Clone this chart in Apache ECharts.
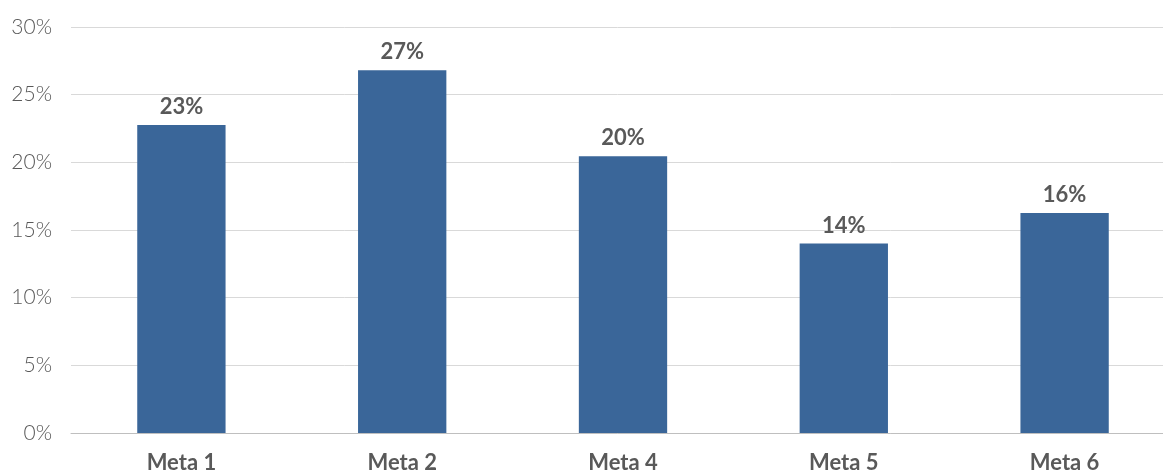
<!DOCTYPE html>
<html>
<head>
<meta charset="utf-8">
<script src="https://cdn.jsdelivr.net/npm/echarts@6/dist/echarts.min.js"></script>
<style>
  html, body { margin: 0; padding: 0; background: #ffffff; }
  #chart { width: 1163px; height: 473px; }
</style>
</head>
<body>
<div id="chart"></div>
<script>
// Share of each goal (percent)
const categories = ['Meta 1', 'Meta 2', 'Meta 4', 'Meta 5', 'Meta 6'];
const shares = [22.75, 26.8, 20.45, 14.0, 16.25];
const yTicks = [0, 5, 10, 15, 20, 25, 30];

const chart = echarts.init(document.getElementById('chart'), null, { renderer: 'canvas' });

chart.setOption({
  animation: false,
  backgroundColor: '#ffffff',
  // plot area runs a little past the right edge of the canvas
  grid: {
    left: 71, top: 27, width: 1104, height: 406,
    containLabel: false,
    outerBoundsMode: 'none'
  },
  xAxis: {
    type: 'category',
    data: categories,
    axisLine: { show: true, lineStyle: { color: '#BFBFBF', width: 1 } },
    axisTick: { show: false },
    axisLabel: {
      margin: 19,
      color: '#595959',
      fontFamily: 'Lato, "DejaVu Sans", sans-serif',
      fontWeight: 'bold',
      fontSize: 22
    }
  },
  yAxis: {
    type: 'value',
    min: yTicks[0],
    max: yTicks[yTicks.length - 1],
    interval: 5,
    axisLine: { show: false },
    axisTick: { show: false },
    splitLine: { lineStyle: { color: '#D9D9D9', width: 1 } },
    axisLabel: {
      margin: 19,
      color: '#595959',
      fontFamily: 'Lato, "DejaVu Sans", sans-serif',
      fontWeight: 300,
      fontSize: 21,
      formatter: v => v + '%'
    }
  },
  series: [{
    type: 'bar',
    data: shares,
    barWidth: '40%',
    itemStyle: { color: '#3A6699' },
    label: {
      show: true,
      position: 'top',
      distance: 7,
      color: '#595959',
      fontFamily: 'Lato, "DejaVu Sans", sans-serif',
      fontWeight: 'bold',
      fontSize: 22,
      formatter: p => Math.round(p.value) + '%'
    }
  }]
});
</script>
</body>
</html>
